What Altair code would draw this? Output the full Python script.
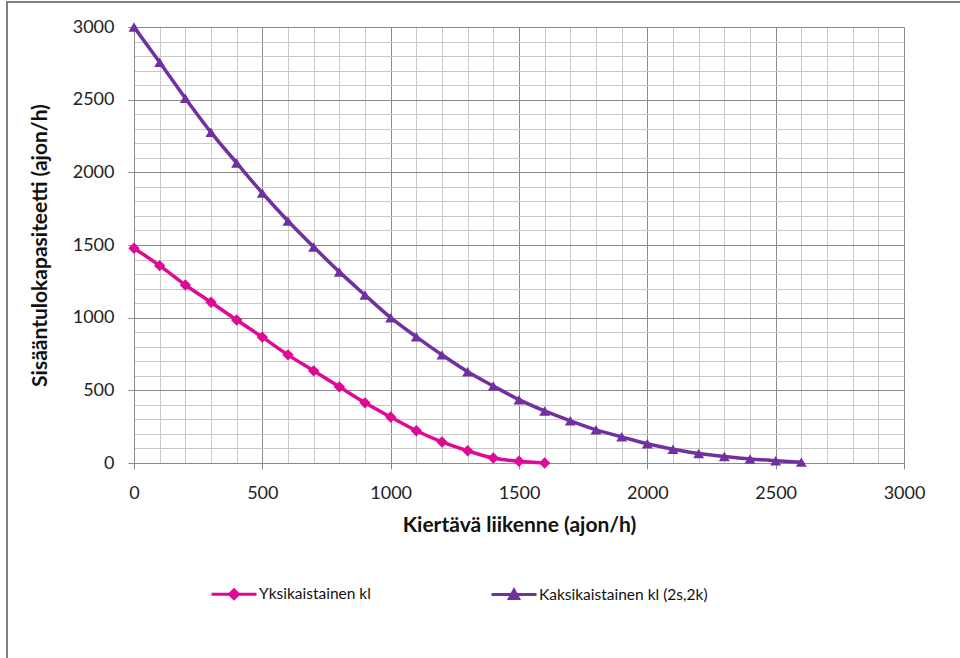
import altair as alt
import pandas as pd

# Yksikaistainen kl (single-lane)
x_single = [0, 100, 200, 300, 400, 500, 600, 700, 800, 900, 1000, 1100, 1200, 1300, 1400, 1500, 1600]
y_single = [1478, 1358, 1225, 1106, 984, 866, 744, 634, 524, 414, 316, 222, 145, 84, 34, 12, 0]

# Kaksikaistainen kl (2s,2k)
x_double = [0, 100, 200, 300, 400, 500, 600, 700, 800, 900, 1000, 1100, 1200, 1300, 1400,
            1500, 1600, 1700, 1800, 1900, 2000, 2100, 2200, 2300, 2400, 2500, 2600]
y_double = [3000, 2758, 2510, 2275, 2065, 1858, 1665, 1487, 1315, 1156, 1000, 868, 744, 628, 530,
            436, 358, 290, 228, 180, 132, 95, 65, 45, 28, 16, 6]

series_names = ["Yksikaistainen kl", "Kaksikaistainen kl (2s,2k)"]
series_colors = ["#DE0A96", "#7030A0"]
grid_values = [0, 100, 200, 300, 400, 500, 600, 700, 800, 900, 1000, 1100, 1200, 1300, 1400, 1500,
               1600, 1700, 1800, 1900, 2000, 2100, 2200, 2300, 2400, 2500, 2600, 2700, 2800, 2900, 3000]

rows = []
for xv, yv in zip(x_single, y_single):
    rows.append({"x": xv, "y": yv, "s": series_names[0]})
for xv, yv in zip(x_double, y_double):
    rows.append({"x": xv, "y": yv, "s": series_names[1]})
df = pd.DataFrame(rows)

FONT = "Lato"
MAJOR = "datum.value % 500 === 0"
grid_color = {"condition": {"test": MAJOR, "value": "#8a8a8a"}, "value": "#c8c8c8"}
tick_op = {"condition": {"test": MAJOR, "value": 1}, "value": 0}
label_expr = "datum.value % 500 === 0 ? datum.label : ''"

x_axis = alt.Axis(values=grid_values, tickCount=100, labelExpr=label_expr, format="d",
                  gridColor=grid_color, tickOpacity=tick_op, tickColor="#8a8a8a", tickSize=6,
                  domainColor="#8a8a8a", labelFont=FONT, labelFontSize=18, labelColor="#222222",
                  labelPadding=15, title="Kiertävä liikenne (ajon/h)", titleFont=FONT,
                  titleFontSize=21, titleFontWeight="bold", titleColor="#111111", titleX=385,
                  titleY=62, titleBaseline="middle", titleAlign="center", labelFlush=False,
                  labelOverlap=False)
y_axis = alt.Axis(values=grid_values, tickCount=100, labelExpr=label_expr, format="d",
                  gridColor=grid_color, tickOpacity=tick_op, tickColor="#8a8a8a", tickSize=6,
                  domainColor="#8a8a8a", labelFont=FONT, labelFontSize=18, labelColor="#222222",
                  labelPadding=14, title="Sisääntulokapasiteetti  (ajon/h)", titleFont=FONT,
                  titleFontSize=21, titleFontWeight="bold", titleColor="#111111", titleX=-94,
                  titleY=218, titleAngle=270, titleBaseline="middle", titleAlign="center",
                  labelFlush=False, labelOverlap=False)

DIAMOND = "M-1,0H1M0,-0.2L0.2,0L0,0.2L-0.2,0Z"
TRI = "M-1,0H1M-0.2,0.17L0,-0.2L0.2,0.17Z"

legend = alt.Legend(orient="none", legendX=76, legendY=543, direction="horizontal", title=None,
                    symbolSize=2025, symbolStrokeWidth=3, symbolOpacity=1, labelFont=FONT,
                    labelFontSize=15.5, labelColor="#111111", labelOffset=1, columnPadding=114,
                    labelLimit=400)

xs = alt.Scale(domain=[0, 3000], nice=False, zero=False)
ys = alt.Scale(domain=[0, 3000], nice=False, zero=False)

base = alt.Chart(df)
X = alt.X("x:Q", scale=xs, axis=x_axis)
Y = alt.Y("y:Q", scale=ys, axis=y_axis)

layers = []
shapes = ["diamond", "triangle-up"]
sizes = [130, 120]
for name, col, shp, sz in zip(series_names, series_colors, shapes, sizes):
    sub = base.transform_filter(alt.datum.s == name)
    layers.append(sub.mark_line(strokeWidth=3.5, interpolate="monotone", color=col).encode(x=X, y=Y))
    layers.append(sub.mark_point(filled=True, opacity=1, size=sz, shape=shp, color=col).encode(x=X, y=Y))

legend_layer = base.transform_filter("false").mark_point(filled=True, strokeWidth=3).encode(
    x=X, y=Y,
    fill=alt.Fill("s:N", scale=alt.Scale(domain=series_names, range=series_colors), legend=legend),
    stroke=alt.Stroke("s:N", scale=alt.Scale(domain=series_names, range=series_colors), legend=legend),
    shape=alt.Shape("s:N", scale=alt.Scale(domain=series_names, range=[DIAMOND, TRI]), legend=legend),
)
layers.append(legend_layer)

frame_df = pd.DataFrame({"k": [0]})
layers.append(alt.Chart(frame_df).mark_rule(color="#808080", strokeWidth=2).encode(
    x=alt.value(-127), x2=alt.value(830), y=alt.value(-25)))
layers.append(alt.Chart(frame_df).mark_rule(color="#808080", strokeWidth=2).encode(
    x=alt.value(-127), y=alt.value(-26), y2=alt.value(635)))

chart = alt.layer(*layers).properties(
    width=770, height=436,
    autosize=alt.AutoSizeParams(type="none"),
    padding={"left": 134, "top": 27, "right": 56, "bottom": 195},
    background="white",
).configure_view(stroke=None)

chart.save("out.html", embed_options={"renderer": "svg", "actions": False})
